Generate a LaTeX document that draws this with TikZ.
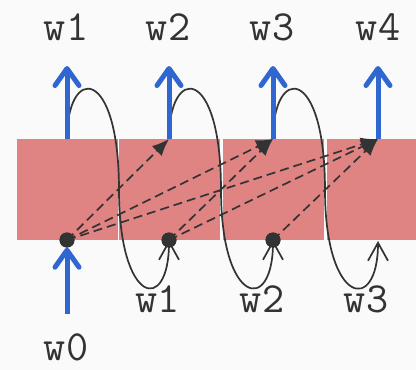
\documentclass[tikz,border=0pt]{standalone}
\usetikzlibrary{arrows.meta}
\definecolor{cellred}{HTML}{DF8383}
\definecolor{outblue}{HTML}{3066D0}
\definecolor{ink}{HTML}{333333}
\definecolor{paper}{HTML}{FAFAFA}
\begin{document}
\begin{tikzpicture}[x=1pt, y=-1pt,
                    cell/.style = {fill=cellred, minimum width=101pt, minimum height=101pt, inner sep=0pt},
                    state/.style = {fill=ink, circle, minimum size=15pt, inner sep=0pt},
                    word/.style = {text=ink, font=\ttfamily\fontsize{43}{43}\selectfont, anchor=base, inner sep=0pt},
                    emit/.style = {draw=outblue, line width=5pt, -{Straight Barb[length=17pt, width=24pt, round]}},
                    attend/.style = {draw=ink, line width=1.7pt, dash pattern=on 9pt off 5pt, -{Latex[length=17pt, width=14pt]}},
                    carry/.style = {draw=ink, line width=1.7pt, -{Straight Barb[length=18pt, width=20pt]}}
                ]
                    \fill[paper] (0,0) rectangle (416,370);
                    \useasboundingbox (0,0) rectangle (416,370);

                    \node[cell] (c1) at (67.5,189.5) {};
                    \node[cell] (c2) at (169.5,189.5) {};
                    \node[cell] (c3) at (273.5,189.5) {};
                    \node[cell] (c4) at (377.5,189.5) {};

                    \coordinate (t1) at (67,139);
                    \coordinate (t2) at (169,139);
                    \coordinate (t3) at (273,139);
                    \coordinate (t4) at (378,139);
                    \coordinate (o1) at (67,66);
                    \coordinate (o2) at (169,66);
                    \coordinate (o3) at (273,66);
                    \coordinate (o4) at (378,66);
                    \coordinate (e4) at (378,241);
                    \coordinate (i0) at (67,314);

                    \node[state] (d0) at (67,240) {};
                    \node[state] (d1) at (169,240) {};
                    \node[state] (d2) at (273,240) {};

                    \node[word] (w1) at (66,40) {w1};
                    \node[word] (w2) at (168,40) {w2};
                    \node[word] (w3) at (272,40) {w3};
                    \node[word] (w4) at (378,40) {w4};
                    \node[word] (b1) at (158,312) {w1};
                    \node[word] (b2) at (262,312) {w2};
                    \node[word] (b3) at (366,312) {w3};
                    \node[word] (w0) at (66,360) {w0};

                    \draw[attend] (d0.center) -- (t2);
                    \draw[attend] (d0.center) -- (t3);
                    \draw[attend] (d0.center) -- (t4);
                    \draw[attend] (d1.center) -- (t3);
                    \draw[attend] (d1.center) -- (t4);
                    \draw[attend] (d2.center) -- (t4);

                    \draw[carry] (t1) .. controls (67,65) and (119,65) .. (119,190) .. controls (119,305) and (169,315) .. (d1.center);
                    \draw[carry] (t2) .. controls (169,65) and (221,65) .. (221,190) .. controls (221,305) and (273,315) .. (d2.center);
                    \draw[carry] (t3) .. controls (273,65) and (325,65) .. (325,190) .. controls (325,305) and (378,315) .. (e4);

                    \draw[emit] (t1) -- (o1);
                    \draw[emit] (t2) -- (o2);
                    \draw[emit] (t3) -- (o3);
                    \draw[emit] (t4) -- (o4);
                    \draw[emit] (i0) -- (d0.south);

                    \node[state] at (d0) {};
                    \node[state] at (d1) {};
                    \node[state] at (d2) {};
                \end{tikzpicture}
\end{document}
